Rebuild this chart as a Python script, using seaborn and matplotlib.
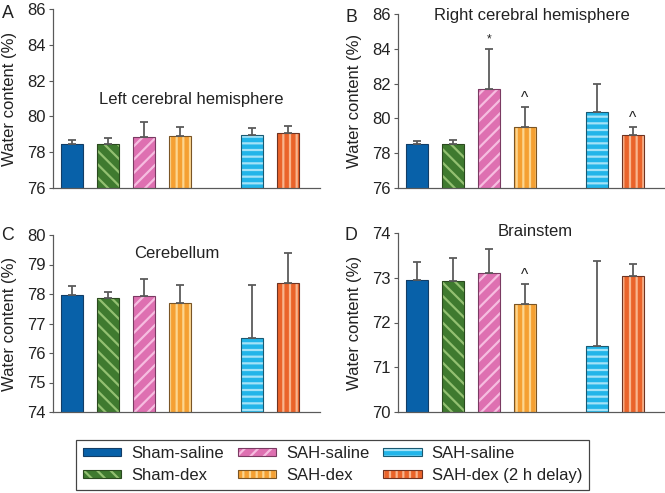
import numpy as np
import pandas as pd
import matplotlib
matplotlib.use("Agg")
import matplotlib.pyplot as plt
import matplotlib.patches as mpatches
import seaborn as sns

# groups (two SAH-saline groups; the second one is the delayed cohort)
groups = ["Sham-saline", "Sham-dex", "SAH-saline", "SAH-dex",
          "SAH-saline (2 h delay)", "SAH-dex (2 h delay)"]
legend_labels = ["Sham-saline", "Sham-dex", "SAH-saline", "SAH-dex",
                 "SAH-saline", "SAH-dex (2 h delay)"]
positions = [0, 1, 2, 3, 5, 6]

# water content (%) means and upper error
left_means = [78.48, 78.48, 78.85, 78.90, 78.96, 79.09]
left_err = [0.18, 0.30, 0.82, 0.51, 0.38, 0.35]
right_means = [78.51, 78.51, 81.69, 79.52, 80.36, 79.02]
right_err = [0.20, 0.23, 2.31, 1.13, 1.64, 0.48]
cereb_means = [77.96, 77.87, 77.92, 77.71, 76.51, 78.38]
cereb_err = [0.30, 0.20, 0.60, 0.58, 1.78, 1.02]
brain_means = [72.96, 72.93, 73.11, 72.42, 71.47, 73.03]
brain_err = [0.39, 0.51, 0.54, 0.44, 1.90, 0.27]

left_marks = ["", "", "", "", "", ""]
right_marks = ["", "", "*", "^", "", "^"]
cereb_marks = ["", "", "", "", "", ""]
brain_marks = ["", "", "", "^", "", ""]

face_colors = ["#0861a9", "#3f7a2f", "#de70b1", "#f5a032", "#22b5e9", "#ea632a"]
hatch_colors = ["#0861a9", "#93c071", "#f6bde0", "#fcd690", "#a4e3f8", "#f8b58e"]
edge_colors = ["#123d66", "#2b4a1f", "#7a3a62", "#7a5525", "#1a5a72", "#6e3322"]
hatches = ["", "\\\\", "//", "||", "--", "||"]

sns.set_theme(style="ticks")
plt.rcParams["font.family"] = ["Liberation Sans", "DejaVu Sans"]
plt.rcParams["hatch.linewidth"] = 2.0
plt.rcParams["font.size"] = 15

GRAY = "#5a5a5a"
TXT = "#222222"

fig = plt.figure(figsize=(665 / 80, 493 / 80), dpi=80)
W, H = 665.0, 493.0


def px_axes(left, top, right, bottom):
    return fig.add_axes([left / W, 1 - bottom / H, (right - left) / W, (bottom - top) / H])


def draw_panel(ax, means, errs, marks, ylim, yticks, title, title_xy):
    df = pd.DataFrame({"pos": positions, "group": groups, "value": means})
    sns.barplot(data=df, x="pos", y="value", hue="group", hue_order=groups,
                palette=dict(zip(groups, face_colors)), native_scale=True,
                width=0.61, dodge=False, saturation=1, errorbar=None,
                legend=False, linewidth=0, ax=ax)
    for p in list(ax.patches):
        i = positions.index(int(round(p.get_x() + p.get_width() / 2)))
        p.set_hatch(hatches[i])
        p.set_edgecolor(hatch_colors[i])
        p.set_linewidth(0)
    sns.barplot(data=df, x="pos", y="value", hue="group", hue_order=groups,
                palette=dict(zip(groups, edge_colors)), native_scale=True,
                width=0.61, dodge=False, saturation=1, errorbar=None,
                legend=False, fill=False, linewidth=1.0, ax=ax)

    ax.errorbar(positions, means, yerr=[np.zeros(len(errs)), errs], fmt="none",
                ecolor=GRAY, elinewidth=1.6, capsize=4, capthick=1.6, zorder=1)

    for x, m, e, s in zip(positions, means, errs, marks):
        if not s:
            continue
        if s == "*":
            ax.annotate(s, (x, m + e), xytext=(0, 6), textcoords="offset points",
                        ha="center", va="baseline", fontsize=11, color=TXT)
        else:
            ax.annotate(s, (x, m + e), xytext=(0, 4), textcoords="offset points",
                        ha="center", va="baseline", fontsize=14, color=TXT)

    ax.text(title_xy[0], title_xy[1], title, transform=ax.transAxes,
            ha="center", va="center", fontsize=15, color=TXT)

    ax.set_xlim(-0.53, 6.89)
    ax.set_ylim(*ylim)
    ax.set_yticks(yticks)
    ax.set_xticks([])
    ax.set_xlabel("")
    ax.set_ylabel("Water content (%)", fontsize=15, color=TXT)
    ax.yaxis.set_label_coords(-0.133, 0.5)
    ax.tick_params(axis="y", length=3.6, width=1.0, pad=2.7, colors=GRAY,
                   labelcolor=TXT, labelsize=15)
    sns.despine(ax=ax)
    for sp in ("left", "bottom"):
        ax.spines[sp].set_color(GRAY)
        ax.spines[sp].set_linewidth(1.1)
    ax.set_facecolor("none")


axA = px_axes(53, 9, 320, 188)
axB = px_axes(398, 14, 665, 188)
axC = px_axes(53, 235, 320, 412)
axD = px_axes(398, 233, 665, 412)

draw_panel(axA, left_means, left_err, left_marks, (76, 86), [76, 78, 80, 82, 84, 86],
           "Left cerebral hemisphere", (0.517, 0.494))
draw_panel(axB, right_means, right_err, right_marks, (76, 86), [76, 78, 80, 82, 84, 86],
           "Right cerebral hemisphere", (0.502, 0.989))
draw_panel(axC, cereb_means, cereb_err, cereb_marks, (74, 80), [74, 75, 76, 77, 78, 79, 80],
           "Cerebellum", (0.464, 0.893))
draw_panel(axD, brain_means, brain_err, brain_marks, (70, 74), [70, 71, 72, 73, 74],
           "Brainstem", (0.513, 1.008))

for letter, (x, y) in zip("ABCD", [(8, 13), (351, 17), (8, 235), (351, 236)]):
    fig.text(x / W, 1 - y / H, letter, ha="center", va="center", fontsize=16, color=TXT)

handles = []
for i in range(len(groups)):
    base = mpatches.Patch(facecolor=face_colors[i], edgecolor=hatch_colors[i],
                          hatch=hatches[i], linewidth=0)
    rim = mpatches.Patch(facecolor="none", edgecolor=edge_colors[i], linewidth=1.0)
    handles.append((base, rim))

leg = fig.legend(handles, legend_labels, loc="upper center",
                 bbox_to_anchor=(0.5, 1 - 440 / H), ncol=3, fontsize=15,
                 frameon=True, fancybox=False, framealpha=1, edgecolor="#444444",
                 handlelength=2.3, handleheight=0.36, handletextpad=0.6,
                 columnspacing=0.84, labelspacing=0.42, borderpad=0.38,
                 borderaxespad=0)
leg.get_frame().set_linewidth(1.1)
for t in leg.get_texts():
    t.set_color(TXT)

fig.savefig("out.png", dpi=80)
